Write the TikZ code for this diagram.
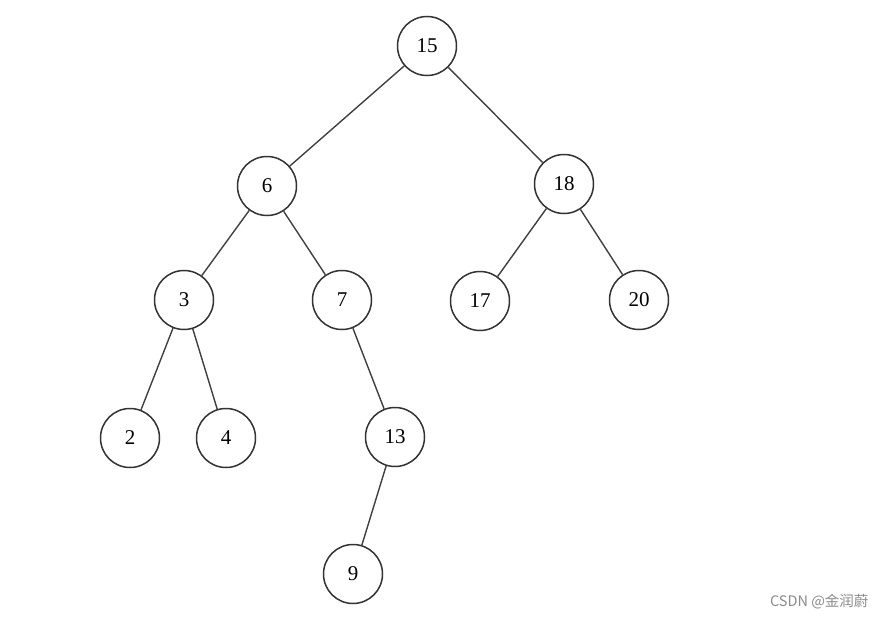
\documentclass[tikz,border=0pt]{standalone}
\usepackage{fontspec}
\setmainfont{Liberation Serif}
\newfontfamily\cjk{Noto Sans CJK SC}
\begin{document}
\begin{tikzpicture}[x=1pt,y=-1pt,
  vtx/.style={circle,draw=black!80,line width=1.5pt,minimum size=59pt,inner sep=0pt,font=\fontsize{21}{24}\selectfont},
  edge/.style={draw=black!75,line width=1.4pt}]
\useasboundingbox (0,0) rectangle (886,618);
\fill[white] (0,0) rectangle (886,618);
\node[vtx] (n15) at (427,46) {15};
\node[vtx] (n6) at (267,186) {6};
\node[vtx] (n18) at (564,184) {18};
\node[vtx] (n3) at (184,300) {3};
\node[vtx] (n7) at (342,300) {7};
\node[vtx] (n17) at (480,301) {17};
\node[vtx] (n20) at (639,300) {20};
\node[vtx] (n2) at (130,438) {2};
\node[vtx] (n4) at (226,438) {4};
\node[vtx] (n13) at (395,437) {13};
\node[vtx] (n9) at (353,574) {9};
\draw[edge] (n15) -- (n6);
\draw[edge] (n15) -- (n18);
\draw[edge] (n6) -- (n3);
\draw[edge] (n6) -- (n7);
\draw[edge] (n18) -- (n17);
\draw[edge] (n18) -- (n20);
\draw[edge] (n3) -- (n2);
\draw[edge] (n3) -- (n4);
\draw[edge] (n7) -- (n13);
\draw[edge] (n13) -- (n9);
\node[text=black!45,font=\cjk\fontsize{14.5}{16}\selectfont,anchor=east] (wm) at (872,602) {CSDN @金润蔚};
\end{tikzpicture}
\end{document}
